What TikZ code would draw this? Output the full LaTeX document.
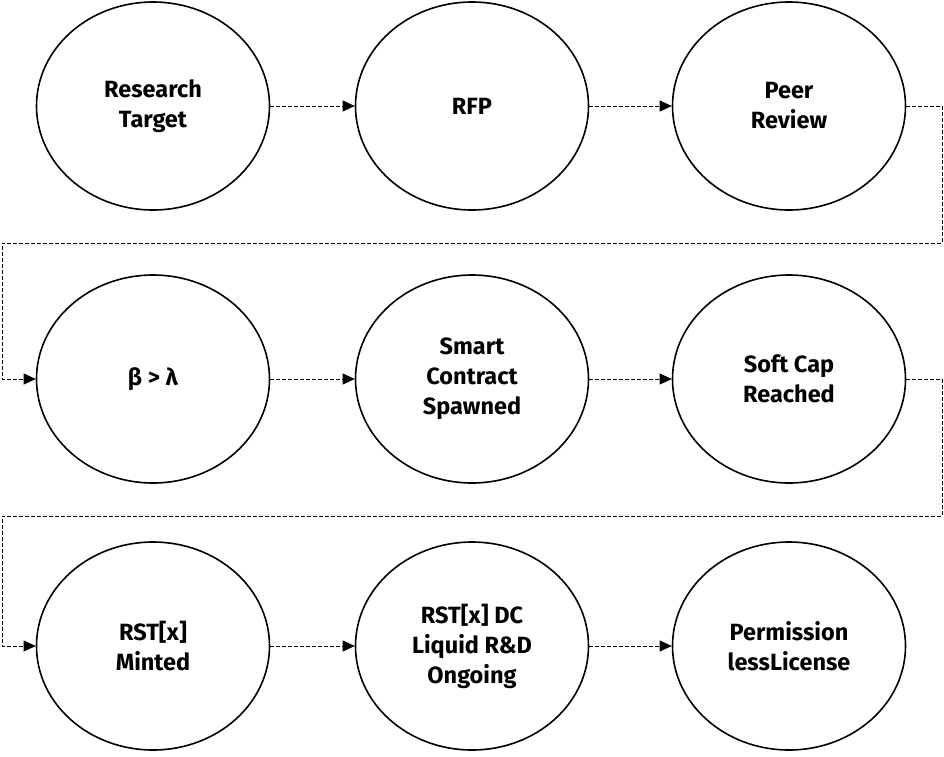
\documentclass[tikz,border=0pt]{standalone}
\usepackage{fontspec}
\setmainfont{Fira Sans}
\usetikzlibrary{shapes.geometric,arrows.meta}
\tikzset{
  stage/.style={ellipse, draw=black, line width=1.6pt, minimum width=233pt, minimum height=208pt, inner sep=0pt,
    align=center, font=\fontsize{23.5pt}{30pt}\selectfont\bfseries},
  flow/.style={draw=black, line width=0.8pt, dash pattern=on 3.5pt off 2.5pt, -{Triangle[length=12pt,width=11pt]}},
}
\begin{document}
\begin{tikzpicture}[x=1pt,y=-1pt]
\useasboundingbox (0,0) rectangle (944,756);
\node[stage] (rt) at (153,106) {Research\\Target};
\node[stage] (rfp) at (472,106) {RFP};
\node[stage] (pr) at (789,106) {Peer\\Review};
\node[stage] (bl) at (153,379) {β > λ};
\node[stage] (sc) at (472,379) {Smart\\Contract\\Spawned};
\node[stage] (scr) at (789,379) {Soft Cap\\Reached};
\node[stage] (rm) at (153,646) {RST[x]\\Minted};
\node[stage] (rdc) at (472,646) {RST[x] DC\\Liquid R\&D\\Ongoing};
\node[stage] (pl) at (789,646) {Permission\\lessLicense};
\coordinate (w1a) at (942,106);
\coordinate (w1b) at (942,243);
\coordinate (w1c) at (2,243);
\coordinate (w1d) at (2,379);
\coordinate (w2a) at (942,379);
\coordinate (w2b) at (942,516);
\coordinate (w2c) at (2,516);
\coordinate (w2d) at (2,646);
\draw[flow] (rt) -- (rfp);
\draw[flow] (rfp) -- (pr);
\draw[flow] (pr.east) -- (w1a) -- (w1b) -- (w1c) -- (w1d) -- (bl.west);
\draw[flow] (bl) -- (sc);
\draw[flow] (sc) -- (scr);
\draw[flow] (scr.east) -- (w2a) -- (w2b) -- (w2c) -- (w2d) -- (rm.west);
\draw[flow] (rm) -- (rdc);
\draw[flow] (rdc) -- (pl);
\end{tikzpicture}
\end{document}
